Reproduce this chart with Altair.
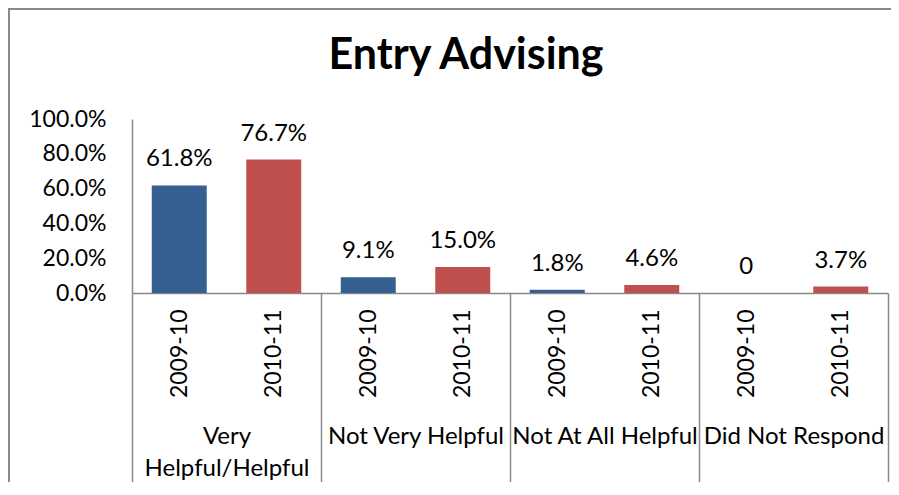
import altair as alt
import pandas as pd

groups = ["Very Helpful/Helpful", "Not Very Helpful", "Not At All Helpful", "Did Not Respond"]
years = ["2009-10", "2010-11"]
values_0910 = [0.618, 0.091, 0.018, 0.0]
values_1011 = [0.767, 0.150, 0.046, 0.037]
labels_0910 = ["61.8%", "9.1%", "1.8%", "0"]
labels_1011 = ["76.7%", "15.0%", "4.6%", "3.7%"]
y_ticks = [0, 0.2, 0.4, 0.6, 0.8, 1.0]

rows = []
for i, g in enumerate(groups):
    for yr, vals, labs in ((years[0], values_0910, labels_0910), (years[1], values_1011, labels_1011)):
        rows.append({"group": g, "year": yr, "key": f"{g}|{yr}", "value": vals[i], "label": labs[i]})
df = pd.DataFrame(rows)
keys = list(df["key"])

FONT = "Lato"
GREY = "#898989"
BLUE = "#376092"
RED = "#C0504D"

base = alt.Chart(df)

y_enc = alt.Y(
    "value:Q",
    scale=alt.Scale(domain=[0, 1], nice=False, zero=True),
    axis=alt.Axis(values=y_ticks, format=".1%", title=None, grid=False, ticks=False,
                  labelOverlap=False, labelFlush=False, tickCount=6,
                  labelPadding=26, labelFont=FONT, labelFontSize=23, labelColor="black",
                  domainColor=GREY, domainWidth=1.5),
)

bars = base.mark_bar().encode(
    x=alt.X("group:N", sort=groups, scale=alt.Scale(paddingInner=0, paddingOuter=0),
            axis=alt.Axis(orient="bottom", title=None, labelAngle=0, tickBand="extent", tickSize=190,
                          tickColor=GREY, tickWidth=1.5, domainColor=GREY, domainWidth=1.5,
                          labelPadding=-59, labelBaseline="top", labelLineHeight=32,
                          labelFont=FONT, labelFontSize=24, labelColor="black", labelLimit=300,
                          labelExpr="datum.value == 'Very Helpful/Helpful' ? ['Very', 'Helpful/Helpful'] : datum.label")),
    xOffset=alt.XOffset("year:N", sort=years, scale=alt.Scale(paddingInner=0.418, paddingOuter=0.209)),
    y=y_enc,
    color=alt.Color("year:N", scale=alt.Scale(domain=years, range=[BLUE, RED]), legend=None),
)

texts = base.mark_text(baseline="alphabetic", dy=-19, font=FONT, fontSize=24, color="black").encode(
    x=alt.X("key:N", sort=keys, scale=alt.Scale(paddingInner=0, paddingOuter=0),
            axis=alt.Axis(orient="bottom", title=None, labelAngle=270, ticks=False, domain=False,
                          labelPadding=16, labelFont=FONT, labelFontSize=23, labelColor="black",
                          labelAlign="right", labelBaseline="middle",
                          labelExpr="split(datum.label, '|')[1]")),
    y=y_enc,
    text="label:N",
)

frame_df = pd.DataFrame({"k": [0]})
frame = alt.Chart(frame_df).mark_rect(fill=None, stroke=GREY, strokeWidth=2).encode(
    x=alt.value(-123), x2=alt.value(763), y=alt.value(-110), y2=alt.value(367))

chart = alt.layer(frame, bars, texts).resolve_scale(
    x="independent").resolve_axis(x="independent").properties(
    width=756, height=174,
    padding={"left": 124, "top": 111, "right": 3, "bottom": 189},
    autosize=alt.AutoSizeParams(type="none"),
    background="white",
    title=alt.TitleParams("Entry Advising", font=FONT, fontSize=43, fontWeight="bold", color="black",
                          anchor="middle", frame="group", dx=-44, offset=0, dy=70),
).configure_view(stroke=None)

chart.save("out.html", embed_options={"renderer": "svg", "actions": False})
